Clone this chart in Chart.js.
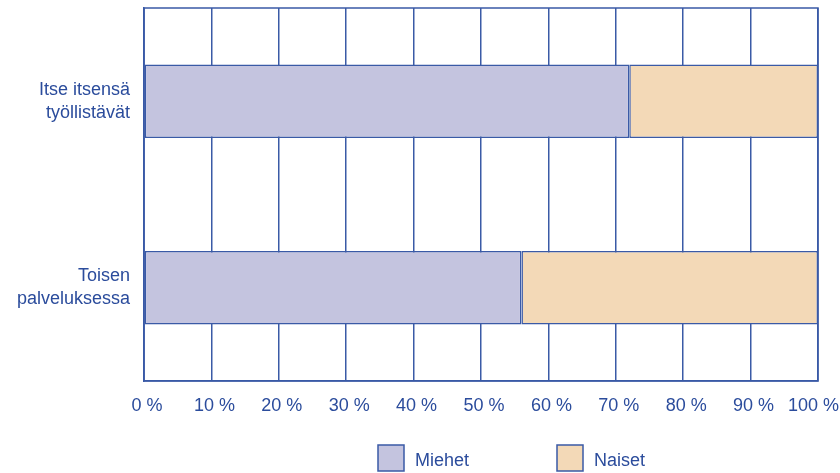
<!DOCTYPE html>
<html><head><meta charset="utf-8">
<script src="https://cdn.jsdelivr.net/npm/chart.js@4/dist/chart.umd.min.js"></script>
<style>html,body{margin:0;padding:0;background:#fff}#wrap{width:840px;height:473px}</style>
</head><body><div id="wrap"><canvas id="c" width="840" height="473"></canvas></div>
<script>
const categories = [["Itse itsensä","työllistävät"],["Toisen","palveluksessa"]];
const seriesNames = ["Miehet","Naiset"];
const miehet = [72, 56];
const naiset = [28, 44];
const tickValues = [0,10,20,30,40,50,60,70,80,90,100];

const BLUE = '#2b4c9c';
const LINE = '#3a5aa6';
const FILL_M = '#c4c4df';
const FILL_N = '#f3d9b7';
const FONT = 'Liberation Sans, Arial, Helvetica, sans-serif';

const framePlugin = {
  id: 'frame',
  afterDatasetsDraw(chart) {
    const {ctx, chartArea: a} = chart;
    ctx.save();
    ctx.strokeStyle = LINE; ctx.lineWidth = 1.5;
    ctx.strokeRect(a.left, a.top, a.right - a.left, a.bottom - a.top);
    ctx.restore();
  },
  afterDraw(chart) {
    const ctx = chart.ctx;
    const items = [
      {name: seriesNames[0], fill: FILL_M, x: 378},
      {name: seriesNames[1], fill: FILL_N, x: 557}
    ];
    ctx.save();
    items.forEach(it => {
      ctx.fillStyle = it.fill;
      ctx.fillRect(it.x, 445, 26, 26);
      ctx.strokeStyle = LINE; ctx.lineWidth = 1.5;
      ctx.strokeRect(it.x, 445, 26, 26);
      ctx.fillStyle = BLUE;
      ctx.font = '18px ' + FONT;
      ctx.textBaseline = 'middle';
      ctx.textAlign = 'left';
      ctx.fillText(it.name, it.x + 37, 461);
    });
    ctx.restore();
  }
};

new Chart(document.getElementById('c'), {
  type: 'bar',
  data: {
    labels: categories,
    datasets: [
      {label: seriesNames[0], data: miehet, backgroundColor: FILL_M, borderColor: LINE, borderWidth: 1.5, borderSkipped: false},
      {label: seriesNames[1], data: naiset, backgroundColor: FILL_N, borderColor: LINE, borderWidth: 1.5, borderSkipped: false}
    ]
  },
  options: {
    indexAxis: 'y',
    responsive: false,
    animation: false,
    layout: {padding: {top: 8, right: 22, left: 0, bottom: 0}},
    datasets: {bar: {categoryPercentage: 1, barPercentage: 0.395}},
    plugins: {legend: {display: false}, tooltip: {enabled: false}},
    scales: {
      x: {
        stacked: true, min: 0, max: 100,
        afterBuildTicks(scale) { scale.ticks = tickValues.map(v => ({value: v})); },
        afterFit(scale) { scale.height = 92; scale.paddingLeft = 0; scale.paddingRight = 0; },
        grid: {color: LINE, lineWidth: 1.5, drawTicks: false},
        border: {color: LINE, width: 1.5},
        ticks: {color: BLUE, padding: 14, maxRotation: 0, autoSkip: false, labelOffset: 3,
          font: {family: FONT, size: 18},
          callback: v => v === 100 ? v + ' %\u00a0\u00a0\u00a0' : v + ' %'}
      },
      y: {
        stacked: true,
        afterFit(scale) { scale.width = 144; scale.paddingTop = 0; scale.paddingBottom = 0; },
        grid: {display: false, drawTicks: false},
        border: {color: LINE, width: 1.5},
        ticks: {color: BLUE, padding: 14, font: {family: FONT, size: 18, lineHeight: 1.3}}
      }
    }
  },
  plugins: [framePlugin]
});
</script></body></html>
